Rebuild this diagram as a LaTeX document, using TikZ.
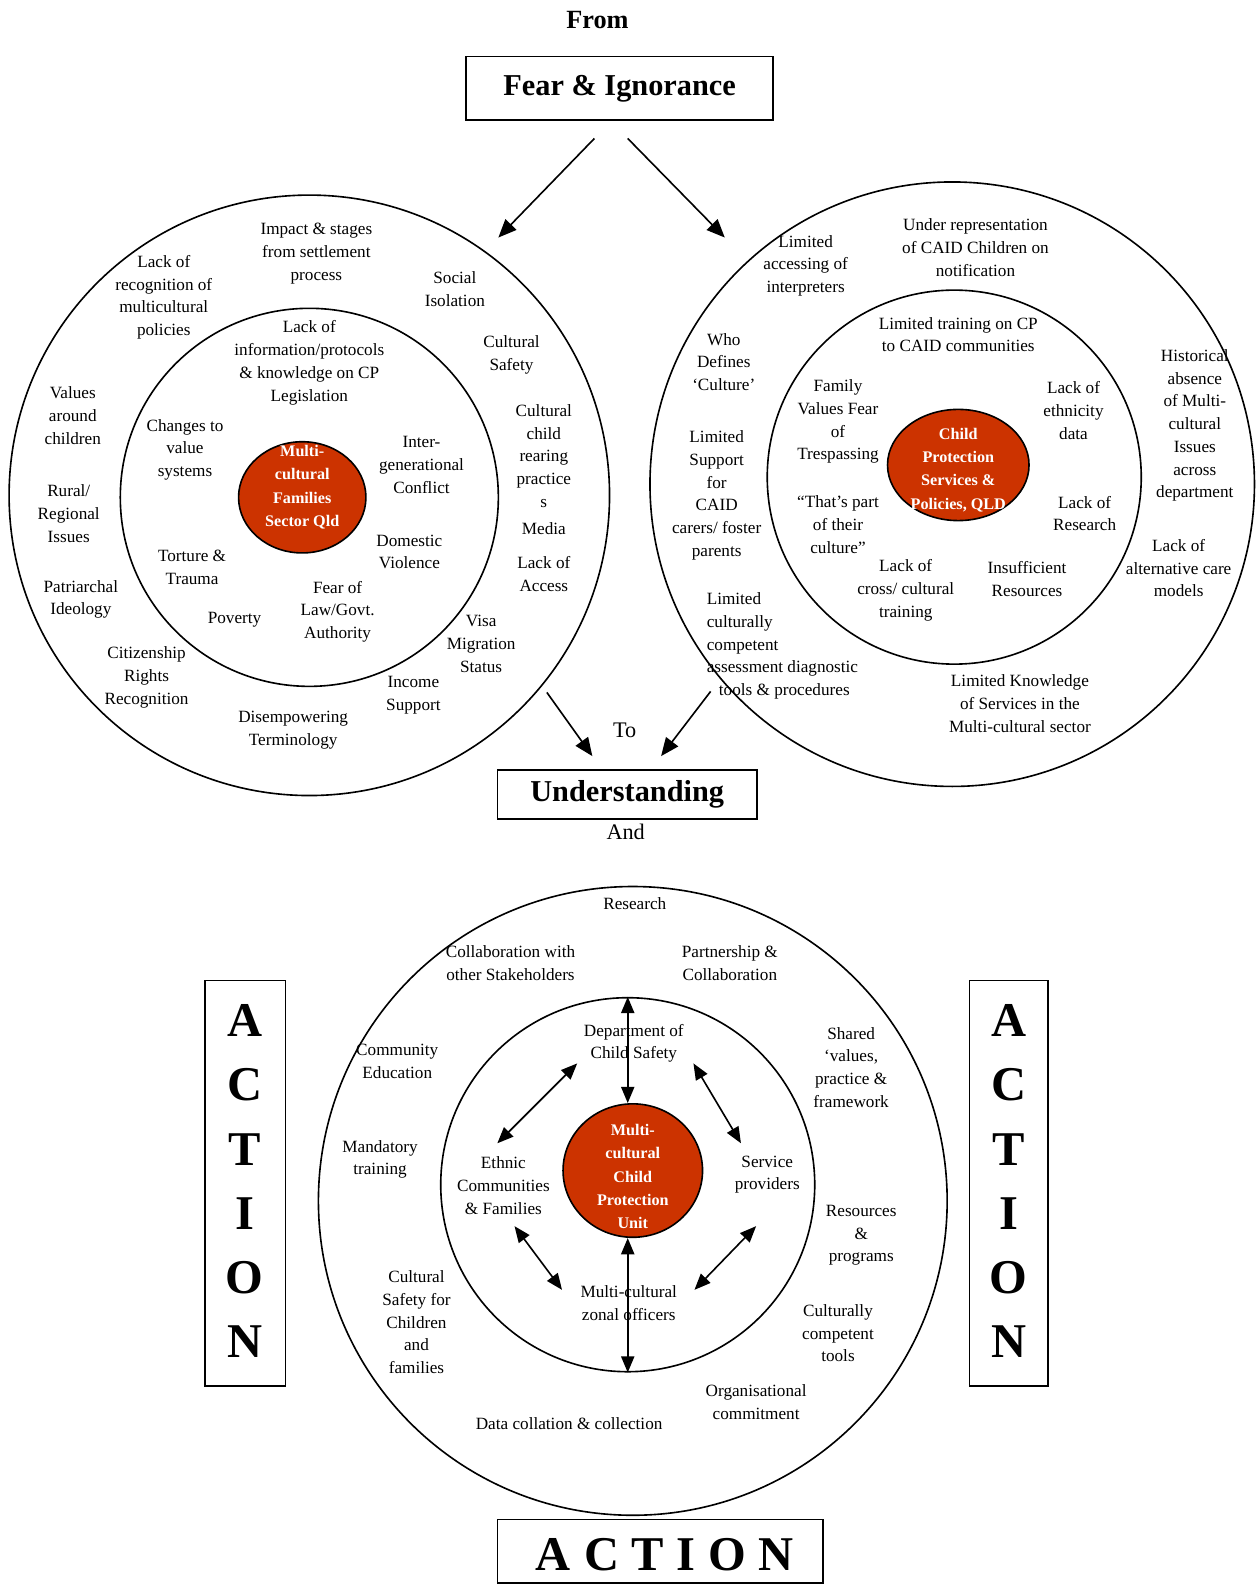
\documentclass[tikz,border=0pt]{standalone}
\usepackage{fontspec}
\setmainfont{Liberation Serif}
\usetikzlibrary{arrows.meta, shapes.geometric}
\definecolor{hubred}{RGB}{204,51,0}

\begin{document}
\begin{tikzpicture}[
    x = 1pt, y = -1pt,
    ring/.style = {
      shape = circle,
      draw = black,
      line width = 1.6pt,
      inner sep = 0pt,
    },
    hub/.style = {
      shape = ellipse,
      draw = black,
      fill = hubred,
      line width = 1.6pt,
      inner sep = 0pt,
    },
    hubtext/.style = {
      align = center,
      text = white,
      inner sep = 0pt,
      font = \bfseries\fontsize{16}{23}\selectfont
    },
    lbl/.style = {
      align = center,
      inner sep = 0pt,
      font = \fontsize{17}{22.5}\selectfont
    },
    titlebox/.style = {
      draw = black,
      line width = 1.6pt,
      inner sep = 0pt,
      font = \bfseries\fontsize{30}{32}\selectfont
    },
    letter/.style = {
      inner sep = 0pt,
      font = \bfseries\fontsize{48}{50}\selectfont
    },
    arr/.style = {
      line width = 1.6pt,
      -{Triangle[length = 18pt, width = 15pt]}
    },
    dbl/.style = {
      line width = 1.6pt,
      {Triangle[length = 16pt, width = 13pt]}-{Triangle[length = 16pt, width = 13pt]}
    }
  ]
    \useasboundingbox (0, 0) rectangle (1246, 1568);

    % from fear and ignorance
    \node[font = \bfseries\fontsize{26}{28}\selectfont] (from) at (591, 20) {From};
    \node[titlebox, minimum width = 304pt, minimum height = 63pt] (fear) at (613, 87.5) {Fear \& Ignorance};

    \coordinate (fearL) at (588, 137);
    \coordinate (fearR) at (621, 137);
    \coordinate (toL) at (493, 235);
    \coordinate (toR) at (717, 235);
    \draw[arr] (fearL) -- (toL);
    \draw[arr] (fearR) -- (toR);

    % left circle: families
    \node[ring, minimum size = 594pt] (outL) at (306, 490) {};
    \node[ring, minimum size = 374pt] (inL) at (306, 492) {};
    \node[hub, minimum width = 126pt, minimum height = 110pt] (hubL) at (299, 492) {};
    \node[hubtext] (hubLtxt) at (299, 482) {Multi-\\cultural\\Families\\Sector Qld};

    \node[lbl] (impact) at (313, 251) {Impact \& stages\\from settlement\\process};
    \node[lbl] (recog) at (162, 294) {Lack of\\recognition of\\multicultural\\policies};
    \node[lbl] (social) at (450, 286) {Social\\Isolation};
    \node[lbl] (safety) at (506, 351) {Cultural\\Safety};
    \node[lbl] (values) at (72, 411) {Values\\around\\children};
    \node[lbl] (info) at (306, 359) {Lack of\\information/protocols\\\& knowledge on CP\\Legislation};
    \node[lbl] (change) at (183, 445) {Changes to\\value\\systems};
    \node[lbl] (inter) at (417, 460) {Inter-\\generational\\Conflict};
    \node[lbl] (rearing) at (538, 451) {Cultural\\child\\rearing\\practice\\s};
    \node[lbl] (media) at (538, 523) {Media};
    \node[lbl] (access) at (538, 568) {Lack of\\Access};
    \node[lbl] (rural) at (68, 508) {Rural/\\Regional\\Issues};
    \node[lbl] (patri) at (80, 593) {Patriarchal\\Ideology};
    \node[lbl] (torture) at (190, 561) {Torture \&\\Trauma};
    \node[lbl] (domestic) at (405, 546) {Domestic\\Violence};
    \node[lbl] (poverty) at (232, 613) {Poverty};
    \node[lbl] (fearlaw) at (334, 605) {Fear of\\Law/Govt.\\Authority};
    \node[lbl] (visa) at (476, 637) {Visa\\Migration\\Status};
    \node[lbl] (citizen) at (145, 670) {Citizenship\\Rights\\Recognition};
    \node[lbl] (income) at (409, 688) {Income\\Support};
    \node[lbl] (disemp) at (290, 722) {Disempowering\\Terminology};

    % right circle: child protection services
    \node[ring, minimum size = 598pt] (outR) at (942, 479) {};
    \node[ring, minimum size = 370pt] (inR) at (944, 472) {};
    \node[hub, minimum width = 140pt, minimum height = 110pt] (hubR) at (948, 460) {};
    \node[hubtext] (hubRtxt) at (948, 465) {Child\\Protection\\Services \&\\Policies, QLD};

    \node[lbl] (interp) at (797, 263) {Limited\\accessing of\\interpreters};
    \node[lbl] (underrep) at (965, 245) {Under representation\\of CAID Children on\\notification};
    \node[lbl] (training) at (948, 331) {Limited training on CP\\to CAID communities};
    \node[lbl] (who) at (716, 358) {Who\\Defines\\`Culture'};
    \node[lbl] (hist) at (1182, 421) {Historical\\absence\\of Multi-\\cultural\\Issues\\across\\department};
    \node[lbl] (family) at (829, 417) {Family\\Values Fear\\of\\Trespassing};
    \node[lbl] (ethnic) at (1062, 406) {Lack of\\ethnicity\\data};
    \node[lbl] (support) at (709, 490) {Limited\\Support\\for\\CAID\\carers/ foster\\parents};
    \node[lbl] (theirs) at (829, 519) {``That's part\\of their\\culture''};
    \node[lbl] (research) at (1073, 508) {Lack of\\Research};
    \node[lbl] (altcare) at (1166, 562) {Lack of\\alternative care\\models};
    \node[lbl] (cross) at (896, 584) {Lack of\\cross/ cultural\\training};
    \node[lbl] (insuff) at (1016, 573) {Insufficient\\Resources};
    \node[lbl, align = left, anchor = west] (tools) at (699, 639) {Limited\\culturally\\competent\\assessment diagnostic\\\hspace{12pt}tools \& procedures};
    \node[lbl] (knowledge) at (1009, 696) {Limited Knowledge\\of Services in the\\Multi-cultural sector};

    % to understanding
    \coordinate (upL) at (541, 685);
    \coordinate (upR) at (703, 684);
    \coordinate (downL) at (586, 748);
    \coordinate (downR) at (654, 748);
    \draw[arr] (upL) -- (downL);
    \draw[arr] (upR) -- (downR);

    \node[font = \fontsize{22}{24}\selectfont] (to) at (618, 722) {To};
    \node[titlebox, minimum width = 257pt, minimum height = 48pt] (under) at (620.5, 786) {Understanding};
    \node[font = \fontsize{22}{24}\selectfont] (and) at (619, 823) {And};

    % bottom circle: action
    \node[ring, minimum size = 622pt] (outB) at (626, 1188) {};
    \node[ring, minimum size = 370pt] (inB) at (621, 1172) {};
    \node[hub, minimum width = 138pt, minimum height = 132pt] (hubB) at (626, 1158) {};
    \node[hubtext] (hubBtxt) at (626, 1164) {Multi-\\cultural\\Child\\Protection\\Unit};

    \node[lbl] (bres) at (628, 894) {Research};
    \node[lbl] (collab) at (505, 953) {Collaboration with\\other Stakeholders};
    \node[lbl] (partner) at (722, 953) {Partnership \&\\Collaboration};
    \node[lbl] (dept) at (627, 1032) {Department of\\Child Safety};
    \node[lbl] (community) at (393, 1050) {Community\\Education};
    \node[lbl] (shared) at (842, 1056) {Shared\\`values,\\practice \&\\framework};
    \node[lbl] (mandatory) at (376, 1147) {Mandatory\\training};
    \node[lbl] (ethcomm) at (498, 1173) {Ethnic\\Communities\\\& Families};
    \node[lbl] (service) at (759, 1162) {Service\\providers};
    \node[lbl] (resources) at (852, 1222) {Resources\\\&\\programs};
    \node[lbl] (culsafe) at (412, 1308) {Cultural\\Safety for\\Children\\and\\families};
    \node[lbl] (zonal) at (622, 1289) {Multi-cultural\\zonal officers};
    \node[lbl] (culcomp) at (829, 1319) {Culturally\\competent\\tools};
    \node[lbl] (org) at (748, 1387) {Organisational\\commitment};
    \node[lbl] (data) at (563, 1408) {Data collation \& collection};

    \coordinate (deptL) at (571, 1052);
    \coordinate (ethT) at (492, 1131);
    \coordinate (deptR) at (686, 1052);
    \coordinate (servT) at (733, 1131);
    \coordinate (ethB) at (509, 1213);
    \coordinate (zonL) at (556, 1276);
    \coordinate (servB) at (748, 1213);
    \coordinate (zonR) at (687, 1276);
    \draw[dbl] (inB.north) -- (inB.north |- hubB.north);
    \draw[dbl] (inB.south |- hubB.south) -- (inB.south);
    \draw[dbl] (deptL) -- (ethT);
    \draw[dbl] (deptR) -- (servT);
    \draw[dbl] (ethB) -- (zonL);
    \draw[dbl] (servB) -- (zonR);

    % action boxes
    \node[titlebox, minimum width = 80pt, minimum height = 401pt] (actL) at (242.5, 1170.5) {};
    \node[titlebox, minimum width = 78pt, minimum height = 401pt] (actR) at (998, 1170.5) {};
    \foreach \ch [count = \idx from 0] in {A, C, T, I, O, N} {
      \node[letter] (actL\idx) at (242, 1010 + 63.5*\idx) {\ch};
      \node[letter] (actR\idx) at (998, 1010 + 63.5*\idx) {\ch};
    }
    \node[titlebox, minimum width = 322pt, minimum height = 63pt] (actB) at (653, 1534.5) {};
    \foreach \ch/\xpos in {A/547, C/596, T/641, I/679, O/720, N/768} {
      \node[letter] (actB\ch) at (\xpos, 1538) {\ch};
    }
  \end{tikzpicture}
\end{document}
